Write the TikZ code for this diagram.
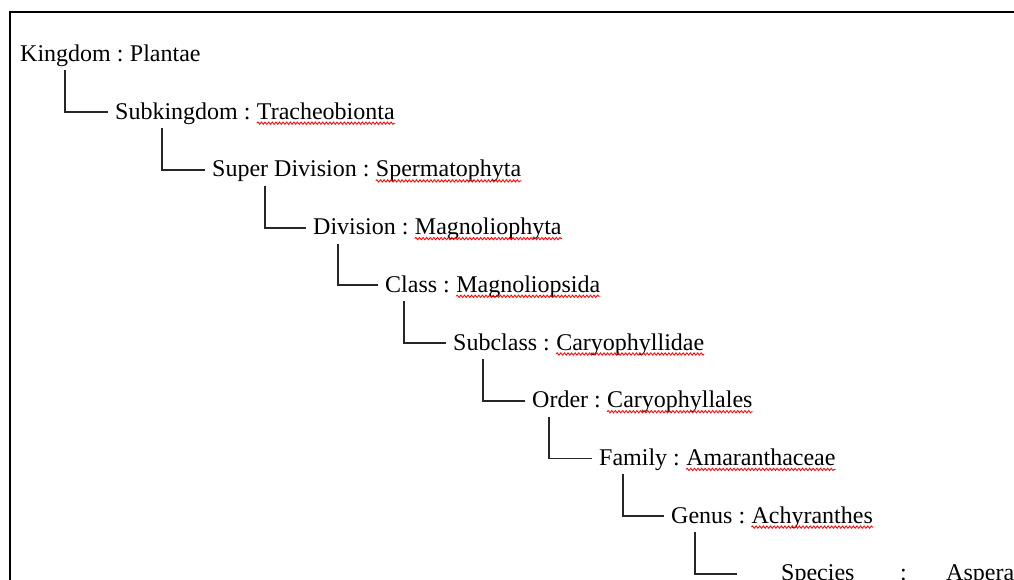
\documentclass[tikz,border=0pt]{standalone}
\usepackage{fontspec}
\setmainfont{Liberation Serif}
\usetikzlibrary{decorations.pathmorphing}
\tikzset{
  rank/.style={anchor=base west,inner sep=0pt,font=\fontsize{24}{28}\selectfont},
  taxon/.style={rank},
  link/.style={line width=1.8pt,draw=black!85},
  spell/.style={draw=red,line width=0.8pt,decorate,
    decoration={snake,amplitude=1.2pt,segment length=3.6pt}}
}
\begin{document}
\begin{tikzpicture}[x=1pt,y=-1pt]
  \useasboundingbox (0,0) rectangle (1014,580);
  \draw[line width=1.6pt] (1014,12) -- (10,12) -- (10,580);
  % ranks and names
  \node[rank] (kingdom) at (20,61.5) {Kingdom :};
  \node[taxon] (plantae) at ([xshift=6pt]kingdom.base east) {Plantae};
  \node[rank] (subkingdom) at (115,119.2) {Subkingdom :};
  \node[taxon] (tracheo) at ([xshift=6pt]subkingdom.base east) {Tracheobionta};
  \node[rank] (superdiv) at (212,176.9) {Super Division :};
  \node[taxon] (sperma) at ([xshift=6pt]superdiv.base east) {Spermatophyta};
  \node[rank] (division) at (313,234.6) {Division :};
  \node[taxon] (magnolioph) at ([xshift=6pt]division.base east) {Magnoliophyta};
  \node[rank] (class) at (385,292.3) {Class :};
  \node[taxon] (magnoliop) at ([xshift=6pt]class.base east) {Magnoliopsida};
  \node[rank] (subclass) at (453,350) {Subclass :};
  \node[taxon] (caryoid) at ([xshift=6pt]subclass.base east) {Caryophyllidae};
  \node[rank] (order) at (532,407.7) {Order :};
  \node[taxon] (caryoal) at ([xshift=6pt]order.base east) {Caryophyllales};
  \node[rank] (family) at (599,465.4) {Family :};
  \node[taxon] (amaranth) at ([xshift=6pt]family.base east) {Amaranthaceae};
  \node[rank] (genus) at (671,523.1) {Genus :};
  \node[taxon] (achyr) at ([xshift=6pt]genus.base east) {Achyranthes};
  \node[rank] (species) at (781,580.8) {Species};
  \node[rank] (colon) at (900,580.8) {:};
  \node[taxon] (aspera) at (946,580.8) {Aspera};
  % tree lines
  \draw[link] ([xshift=45pt,yshift=-9pt]kingdom.base west) |- ([xshift=-7pt,yshift=7pt]subkingdom.base west);
  \draw[link] ([xshift=47pt,yshift=-9pt]subkingdom.base west) |- ([xshift=-7pt,yshift=7pt]superdiv.base west);
  \draw[link] ([xshift=53pt,yshift=-9pt]superdiv.base west) |- ([xshift=-7pt,yshift=7pt]division.base west);
  \draw[link] ([xshift=25pt,yshift=-9pt]division.base west) |- ([xshift=-7pt,yshift=7pt]class.base west);
  \draw[link] ([xshift=19pt,yshift=-9pt]class.base west) |- ([xshift=-7pt,yshift=7pt]subclass.base west);
  \draw[link] ([xshift=30pt,yshift=-9pt]subclass.base west) |- ([xshift=-7pt,yshift=7pt]order.base west);
  \draw[link] ([xshift=17pt,yshift=-9pt]order.base west) |- ([xshift=-7pt,yshift=7pt]family.base west);
  \draw[link] ([xshift=24pt,yshift=-9pt]family.base west) |- ([xshift=-7pt,yshift=7pt]genus.base west);
  \draw[link] ([xshift=24pt,yshift=-9pt]genus.base west) |- ([xshift=-44pt,yshift=7pt]species.base west);
  % spelling marks
  \draw[spell] ([yshift=-4pt]tracheo.base west) -- ([yshift=-4pt]tracheo.base east);
  \draw[spell] ([yshift=-4pt]sperma.base west) -- ([yshift=-4pt]sperma.base east);
  \draw[spell] ([yshift=-4pt]magnolioph.base west) -- ([yshift=-4pt]magnolioph.base east);
  \draw[spell] ([yshift=-4pt]magnoliop.base west) -- ([yshift=-4pt]magnoliop.base east);
  \draw[spell] ([yshift=-4pt]caryoid.base west) -- ([yshift=-4pt]caryoid.base east);
  \draw[spell] ([yshift=-4pt]caryoal.base west) -- ([yshift=-4pt]caryoal.base east);
  \draw[spell] ([yshift=-4pt]amaranth.base west) -- ([yshift=-4pt]amaranth.base east);
  \draw[spell] ([yshift=-4pt]achyr.base west) -- ([yshift=-4pt]achyr.base east);
\end{tikzpicture}
\end{document}
